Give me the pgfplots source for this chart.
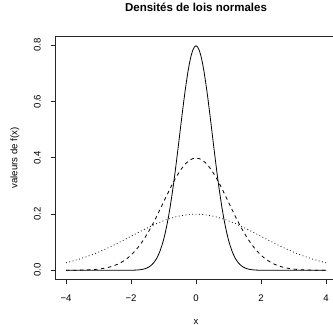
\documentclass[border=0pt]{standalone}
\usepackage{fontspec}
\setmainfont{Liberation Sans}
\usepackage{pgfplots}
\usepackage{pgfplotstable}
\pgfplotsset{compat=1.18}
\pgfplotstableread{
x y
-4.0 0.000134
-3.9 0.000199
-3.8 0.000292
-3.7 0.000425
-3.6 0.000612
-3.5 0.000873
-3.4 0.001232
-3.3 0.001723
-3.2 0.002384
-3.1 0.003267
-3.0 0.004432
-2.9 0.005953
-2.8 0.007915
-2.7 0.010421
-2.6 0.013583
-2.5 0.017528
-2.4 0.022395
-2.3 0.028327
-2.2 0.035475
-2.1 0.043984
-2.0 0.053991
-1.9 0.065616
-1.8 0.078950
-1.7 0.094049
-1.6 0.110921
-1.5 0.129518
-1.4 0.149727
-1.3 0.171369
-1.2 0.194186
-1.1 0.217852
-1.0 0.241971
-0.9 0.266085
-0.8 0.289692
-0.7 0.312254
-0.6 0.333225
-0.5 0.352065
-0.4 0.368270
-0.3 0.381388
-0.2 0.391043
-0.1 0.396953
0.0 0.398942
0.1 0.396953
0.2 0.391043
0.3 0.381388
0.4 0.368270
0.5 0.352065
0.6 0.333225
0.7 0.312254
0.8 0.289692
0.9 0.266085
1.0 0.241971
1.1 0.217852
1.2 0.194186
1.3 0.171369
1.4 0.149727
1.5 0.129518
1.6 0.110921
1.7 0.094049
1.8 0.078950
1.9 0.065616
2.0 0.053991
2.1 0.043984
2.2 0.035475
2.3 0.028327
2.4 0.022395
2.5 0.017528
2.6 0.013583
2.7 0.010421
2.8 0.007915
2.9 0.005953
3.0 0.004432
3.1 0.003267
3.2 0.002384
3.3 0.001723
3.4 0.001232
3.5 0.000873
3.6 0.000612
3.7 0.000425
3.8 0.000292
3.9 0.000199
4.0 0.000134
}\sdone
\pgfplotstableread{
x y
-4.0 0.0
-3.0 0.0
-2.5 0.000003
-2.00 0.000268
-1.95 0.000398
-1.90 0.000584
-1.85 0.000850
-1.80 0.001224
-1.75 0.001746
-1.70 0.002464
-1.65 0.003446
-1.60 0.004768
-1.55 0.006534
-1.50 0.008864
-1.45 0.011906
-1.40 0.015830
-1.35 0.020842
-1.30 0.027166
-1.25 0.035056
-1.20 0.044790
-1.15 0.056654
-1.10 0.070950
-1.05 0.087968
-1.00 0.107982
-0.95 0.131232
-0.90 0.157900
-0.85 0.188098
-0.80 0.221842
-0.75 0.259035
-0.70 0.299454
-0.65 0.342738
-0.60 0.388372
-0.55 0.435704
-0.50 0.483941
-0.45 0.532170
-0.40 0.579383
-0.35 0.624508
-0.30 0.666450
-0.25 0.704130
-0.20 0.736540
-0.15 0.762776
-0.10 0.782085
-0.05 0.793906
0.00 0.797885
0.05 0.793906
0.10 0.782085
0.15 0.762776
0.20 0.736540
0.25 0.704130
0.30 0.666450
0.35 0.624508
0.40 0.579383
0.45 0.532170
0.50 0.483941
0.55 0.435704
0.60 0.388372
0.65 0.342738
0.70 0.299454
0.75 0.259035
0.80 0.221842
0.85 0.188098
0.90 0.157900
0.95 0.131232
1.00 0.107982
1.05 0.087968
1.10 0.070950
1.15 0.056654
1.20 0.044790
1.25 0.035056
1.30 0.027166
1.35 0.020842
1.40 0.015830
1.45 0.011906
1.50 0.008864
1.55 0.006534
1.60 0.004768
1.65 0.003446
1.70 0.002464
1.75 0.001746
1.80 0.001224
1.85 0.000850
1.90 0.000584
1.95 0.000398
2.00 0.000268
2.5 0.000003
3.0 0.0
4.0 0.0
}\sdhalf
\pgfplotstableread{
x y
-4.0 0.026995
-3.8 0.032808
-3.6 0.039475
-3.4 0.047025
-3.2 0.055461
-3.0 0.064759
-2.8 0.074864
-2.6 0.085685
-2.4 0.097093
-2.2 0.108926
-2.0 0.120985
-1.8 0.133043
-1.6 0.144846
-1.4 0.156127
-1.2 0.166613
-1.0 0.176033
-0.8 0.184135
-0.6 0.190694
-0.4 0.195522
-0.2 0.198477
0.0 0.199471
0.2 0.198477
0.4 0.195522
0.6 0.190694
0.8 0.184135
1.0 0.176033
1.2 0.166613
1.4 0.156127
1.6 0.144846
1.8 0.133043
2.0 0.120985
2.2 0.108926
2.4 0.097093
2.6 0.085685
2.8 0.074864
3.0 0.064759
3.2 0.055461
3.4 0.047025
3.6 0.039475
3.8 0.032808
4.0 0.026995
}\sdtwo
\begin{document}
\begin{tikzpicture}
\path[use as bounding box] (0,0) rectangle (333bp,325bp);
\begin{axis}[
  at={(55.6bp,45.7bp)}, anchor=south west,
  scale only axis, width=280.8bp, height=242.5bp,
  xmin=-4.32, xmax=4.32, ymin=-0.0319, ymax=0.8298,
  axis line style={line width=0.8bp, black!85},
  xtick={-4,-2,0,2,4}, xticklabels={−4,−2,0,2,4},
  ytick={0,0.2,0.4,0.6,0.8}, yticklabels={0.0,0.2,0.4,0.6,0.8},
  xtick pos=bottom, ytick pos=left,
  tick align=outside, major tick length=5bp,
  tick style={line width=0.8bp, black!85},
  ticklabel style={font=\fontsize{9.6bp}{11bp}\selectfont},
  xticklabel style={anchor=center, yshift=-14bp},
  yticklabel style={xshift=-13.3bp, rotate=90, anchor=center},
  xlabel={x}, ylabel={valeurs de f(x)},
  label style={font=\fontsize{9.6bp}{11bp}\selectfont},
  xlabel style={at={(axis description cs:0.5,-0.176)}, anchor=center},
  ylabel style={at={(axis description cs:-0.1446,0.5)}, anchor=center, rotate=0},
  title={Densités de lois normales},
  title style={font=\bfseries\fontsize{11.5bp}{13bp}\selectfont, at={(axis description cs:0.5,1.098)}, anchor=center},
  clip=true,
]
\addplot[black, line width=0.8bp] table[x=x,y=y] {\sdhalf};
\addplot[black, line width=0.8bp, dash pattern=on 3.5bp off 3.5bp] table[x=x,y=y] {\sdone};
\addplot[black, line width=0.8bp, dash pattern=on 0.8bp off 2.6bp] table[x=x,y=y] {\sdtwo};
\end{axis}
\end{tikzpicture}
\end{document}
